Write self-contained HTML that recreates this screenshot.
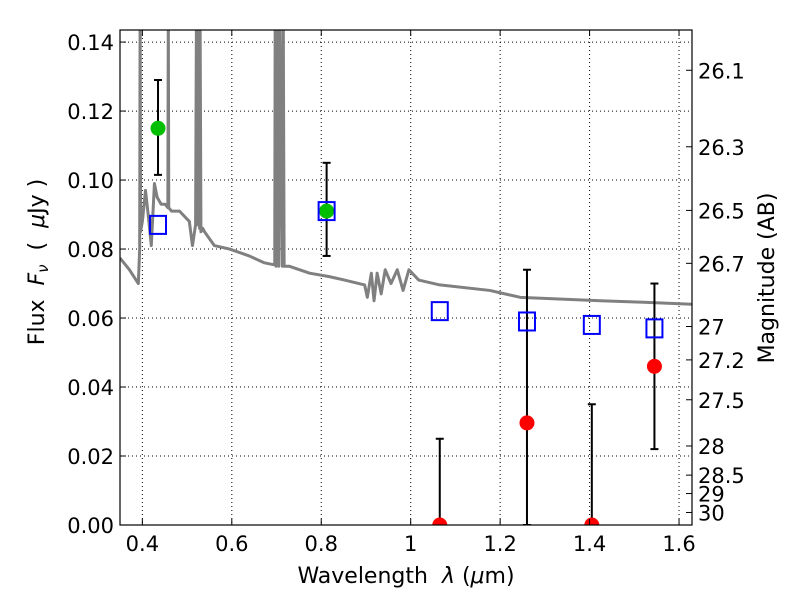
<!DOCTYPE html>
<html><head><meta charset="utf-8"><style>
body{margin:0;background:#fff}
svg text{font-family:"DejaVu Sans","Liberation Sans",sans-serif;fill:#000;white-space:pre}
</style></head><body>
<svg id="c" width="800" height="600" xmlns="http://www.w3.org/2000/svg"></svg>
<script>
const xTicks=[0.4,0.6,0.8,1.0,1.2,1.4,1.6];
const xTickLabels=["0.4","0.6","0.8","1","1.2","1.4","1.6"];
const yTicks=[0,0.02,0.04,0.06,0.08,0.10,0.12,0.14];
const yTickLabels=["0.00","0.02","0.04","0.06","0.08","0.10","0.12","0.14"];
const magTicks=[26.1,26.3,26.5,26.7,27,27.2,27.5,28,28.5,29,30];
const magLabels=["26.1","26.3","26.5","26.7","27","27.2","27.5","28","28.5","29","30"];
const specLam=[0.35,0.371,0.391,0.394,0.395,0.396,0.400,0.407,0.413,0.420,0.427,0.433,0.442,0.451,0.457,0.458,0.459,0.465,0.483,0.505,0.512,0.519,0.521,0.522,0.524,0.528,0.529,0.531,0.535,0.539,0.561,0.595,0.639,0.673,0.696,0.697,0.699,0.703,0.705,0.707,0.713,0.715,0.717,0.729,0.774,0.818,0.852,0.897,0.903,0.912,0.918,0.925,0.934,0.943,0.956,0.970,0.983,0.996,1.018,1.065,1.177,1.245,1.424,1.514,1.63];
const specFlux=[0.0774,0.074,0.070,0.080,0.15,0.085,0.088,0.097,0.090,0.081,0.099,0.095,0.093,0.093,0.092,0.15,0.092,0.091,0.091,0.088,0.081,0.087,0.15,0.087,0.15,0.086,0.15,0.085,0.086,0.085,0.081,0.080,0.078,0.076,0.0754,0.15,0.075,0.15,0.075,0.15,0.075,0.15,0.075,0.075,0.073,0.072,0.071,0.0696,0.066,0.073,0.065,0.073,0.067,0.074,0.070,0.074,0.068,0.074,0.071,0.0696,0.068,0.066,0.065,0.0646,0.064];
const modelLam=[0.435,0.812,1.065,1.26,1.405,1.545];
const modelFlux=[0.087,0.091,0.062,0.059,0.058,0.057];
const detLam=[0.435,0.812];
const detFlux=[0.115,0.091];
const detLo=[0.1015,0.078];
const detHi=[0.129,0.105];
const ulLam=[1.065,1.26,1.405,1.545];
const ulFlux=[0.0,0.0296,0.0,0.046];
const ulLo=[0.0,0.0,0.0,0.022];
const ulHi=[0.025,0.074,0.035,0.070];

const L=120,R=692,T=30,B=525,x0=0.35,x1=1.629,y0=0,y1=0.1435;
const X=v=>L+(v-x0)/(x1-x0)*(R-L);
const Y=v=>B-(v-y0)/(y1-y0)*(B-T);
const svg=document.getElementById('c');
const NS='http://www.w3.org/2000/svg';
function mk(tag,attrs,parent){const e=document.createElementNS(NS,tag);for(const k in attrs)e.setAttribute(k,attrs[k]);(parent||svg).appendChild(e);return e;}
const defs=mk('defs',{});const cp=mk('clipPath',{id:'pc'},defs);mk('rect',{x:L,y:T,width:R-L,height:B-T},cp);
xTicks.forEach(v=>{const g=mk('line',{x1:X(v),x2:X(v),y1:T,y2:B,stroke:'#000','stroke-dasharray':'1,3','stroke-width':1});

});
yTicks.forEach(v=>{const g=mk('line',{x1:L,x2:R,y1:Y(v),y2:Y(v),stroke:'#000','stroke-dasharray':'1,3','stroke-width':1});

});
const plot=mk('g',{'clip-path':'url(#pc)'});


const sp=mk('polyline',{points:specLam.map((l,i)=>X(l)+','+Y(specFlux[i])).join(' '),fill:'none',stroke:'#808080','stroke-width':3,'stroke-linejoin':'round'},plot);


function eb(l,lo,hi,name){const g=mk('g',{stroke:'#000','stroke-width':2},plot);


mk('line',{x1:X(l),x2:X(l),y1:Y(lo),y2:Y(hi)},g);
mk('line',{x1:X(l)-4,x2:X(l)+4,y1:Y(hi),y2:Y(hi)},g);
mk('line',{x1:X(l)-4,x2:X(l)+4,y1:Y(lo),y2:Y(lo)},g);}
detLam.forEach((l,i)=>eb(l,detLo[i],detHi[i],'detection-error-bar'));
ulLam.forEach((l,i)=>eb(l,ulLo[i],ulHi[i],'upper-limit-error-bar'));
detLam.forEach((l,i)=>{const c=mk('circle',{cx:X(l),cy:Y(detFlux[i]),r:7.5,fill:'#00bf00'},plot);

});
ulLam.forEach((l,i)=>{const c=mk('circle',{cx:X(l),cy:Y(ulFlux[i]),r:7.5,fill:'#ff0000'},plot);

});
modelLam.forEach((l,i)=>{const s=mk('rect',{x:X(l)-8,y:Y(modelFlux[i])-9,width:16,height:18,fill:'none',stroke:'#0000ff','stroke-width':2},plot);

});
const fr=mk('rect',{x:L,y:T,width:R-L,height:B-T,fill:'none',stroke:'#000','stroke-width':1.2});


xTicks.forEach((v,i)=>{mk('line',{x1:X(v),x2:X(v),y1:B,y2:B-6,stroke:'#000'});mk('line',{x1:X(v),x2:X(v),y1:T,y2:T+6,stroke:'#000'});
const t=mk('text',{x:X(v),y:B+26,'font-size':21,'text-anchor':'middle'});t.textContent=xTickLabels[i];

});
yTicks.forEach((v,i)=>{mk('line',{x1:L,x2:L+6,y1:Y(v),y2:Y(v),stroke:'#000'});
const t=mk('text',{x:L-6,y:Y(v)+8,'font-size':21,'text-anchor':'end'});t.textContent=yTickLabels[i];

});
magTicks.forEach((m,i)=>{const f=Math.pow(10,(23.9-m)/2.5);const y=Y(f);mk('line',{x1:R-6,x2:R,y1:y,y2:y,stroke:'#000'});
const t=mk('text',{x:R+6,y:y+8,'font-size':21});t.textContent=magLabels[i];

});
</script>
<svg width="800" height="600" style="position:absolute;left:0;top:0" xmlns="http://www.w3.org/2000/svg">
<text x="406" y="583" font-size="22" text-anchor="middle">Wavelength  <tspan font-style="italic">λ</tspan> (<tspan font-style="italic">μ</tspan>m)</text>
<text transform="translate(44,262) rotate(-90)" font-size="22" text-anchor="middle">Flux  <tspan font-style="italic">F</tspan><tspan font-size="15" dy="4" font-style="italic">ν</tspan><tspan dy="-4">  (  </tspan><tspan font-style="italic">μ</tspan>Jy )</text>
<text transform="translate(774,278) rotate(-90)" font-size="22" text-anchor="middle">Magnitude (AB)</text>
</svg>
</body></html>
